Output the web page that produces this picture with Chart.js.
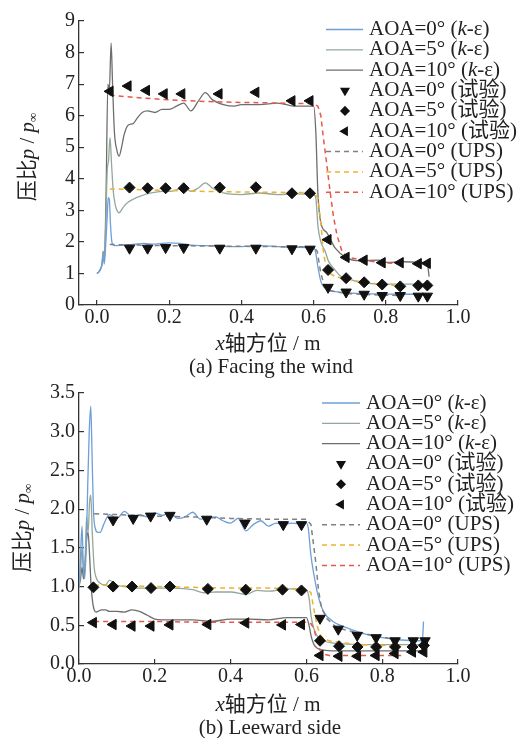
<!DOCTYPE html>
<html>
<head>
<meta charset="utf-8">
<script src="https://cdn.jsdelivr.net/npm/chart.js@4.4.0/dist/chart.umd.min.js"></script>
<style>
  body { margin: 0; background: #fff; }
  #page { position: relative; width: 521px; height: 738px; overflow: hidden;
          font-family: "Liberation Serif", "Noto Sans CJK SC", serif; color: #222; }
  canvas { position: absolute; left: 0; }
  .lbl { position: absolute; font-size: 21px; white-space: nowrap; transform: translate(-50%, -50%); line-height: 1; }
  .ytitle { transform: translate(-50%, -50%) rotate(-90deg); }
  .lbl i { font-style: italic; }
  .lbl sub { font-size: 13px; vertical-align: -3px; }
</style>
</head>
<body>
<div id="page">
  <canvas id="topChart" width="521" height="372" style="top:0"></canvas>
  <canvas id="botChart" width="521" height="366" style="top:372px"></canvas>

  <div class="lbl ytitle" style="left:28px;top:157px">压比<i>p</i> / <i>p</i><sub>∞</sub></div>
  <div class="lbl" style="left:268px;top:343px"><i>x</i>轴方位 / m</div>
  <div class="lbl" style="left:271px;top:366px">(a) Facing the wind</div>

  <div class="lbl ytitle" style="left:23px;top:528px">压比<i>p</i> / <i>p</i><sub>∞</sub></div>
  <div class="lbl" style="left:268px;top:704px"><i>x</i>轴方位 / m</div>
  <div class="lbl" style="left:270px;top:727px">(b) Leeward side</div>
</div>
<script>
// ---- (a) facing the wind ----
const topX_ke0 = [0, 0.005, 0.01, 0.014, 0.017, 0.02, 0.024, 0.028, 0.031, 0.034, 0.037, 0.041, 0.045, 0.05, 0.07, 0.1, 0.13, 0.16, 0.2, 0.23, 0.26, 0.3, 0.35, 0.4, 0.45, 0.5, 0.55, 0.6, 0.605, 0.612, 0.62, 0.63, 0.65, 0.68, 0.72, 0.78, 0.85, 0.92];
const topY_ke0 = [1.0, 1.05, 1.15, 1.3, 1.6, 1.3, 1.9, 2.8, 3.4, 3.35, 2.6, 2.0, 1.9, 1.88, 1.9, 1.92, 1.95, 1.93, 1.97, 1.95, 1.9, 1.88, 1.86, 1.85, 1.88, 1.85, 1.83, 1.82, 1.7, 1.2, 0.75, 0.55, 0.45, 0.4, 0.37, 0.35, 0.34, 0.34];

const topX_ke5 = [0, 0.005, 0.01, 0.014, 0.017, 0.02, 0.024, 0.028, 0.032, 0.036, 0.04, 0.045, 0.05, 0.055, 0.061, 0.07, 0.08, 0.1, 0.12, 0.15, 0.18, 0.2, 0.22, 0.24, 0.26, 0.28, 0.3, 0.32, 0.35, 0.4, 0.45, 0.5, 0.55, 0.6, 0.606, 0.612, 0.62, 0.632, 0.641, 0.66, 0.673, 0.7, 0.728, 0.784, 0.85, 0.927];
const topY_ke5 = [1.0, 1.05, 1.15, 1.3, 1.7, 1.35, 2.5, 4.2, 4.6, 5.3, 4.5, 3.6, 3.2, 3.0, 2.92, 3.05, 3.2, 3.35, 3.45, 3.55, 3.6, 3.6, 3.65, 3.75, 3.6, 3.7, 3.87, 3.7, 3.55, 3.5, 3.55, 3.5, 3.52, 3.5, 3.4, 2.5, 2.0, 1.7, 1.39, 1.1, 0.93, 0.82, 0.72, 0.67, 0.66, 0.66];

const topX_ke10 = [0, 0.005, 0.01, 0.014, 0.017, 0.02, 0.025, 0.03, 0.034, 0.039, 0.043, 0.048, 0.055, 0.061, 0.068, 0.075, 0.086, 0.1, 0.11, 0.125, 0.14, 0.16, 0.18, 0.2, 0.22, 0.24, 0.26, 0.28, 0.3, 0.32, 0.35, 0.38, 0.4, 0.45, 0.5, 0.55, 0.6, 0.606, 0.612, 0.62, 0.636, 0.66, 0.69, 0.73, 0.78, 0.8, 0.85, 0.9, 0.915, 0.92];
const topY_ke10 = [1.0, 1.05, 1.15, 1.3, 1.7, 1.4, 3.5, 7.0, 6.8, 8.3, 7.0, 5.5, 4.9, 4.72, 5.0, 5.4, 5.7, 5.75, 5.9, 6.1, 6.15, 6.1, 6.2, 6.2, 6.3, 6.4, 6.15, 6.45, 6.73, 6.5, 6.35, 6.3, 6.35, 6.35, 6.4, 6.3, 6.3, 5.5, 3.5, 2.6, 2.3, 1.8, 1.5, 1.4, 1.42, 1.35, 1.37, 1.35, 1.3, 0.9];

const topX_exp = [0.09, 0.14, 0.19, 0.24, 0.34, 0.44, 0.54, 0.59, 0.64, 0.69, 0.74, 0.79, 0.84, 0.89, 0.915];
const topY_exp0 = [1.8, 1.8, 1.82, 1.82, 1.8, 1.8, 1.78, 1.77, 0.56, 0.41, 0.34, 0.3, 0.3, 0.28, 0.28];
const topY_exp5 = [3.72, 3.7, 3.7, 3.7, 3.72, 3.73, 3.54, 3.54, 1.11, 0.85, 0.72, 0.65, 0.59, 0.62, 0.62];
const topX_exp10 = [0.036, 0.086, 0.137, 0.186, 0.235, 0.338, 0.44, 0.54, 0.59, 0.64, 0.69, 0.74, 0.79, 0.84, 0.89, 0.915];
const topY_exp10 = [6.77, 6.94, 6.8, 6.69, 6.69, 6.69, 6.74, 6.47, 6.47, 2.07, 1.51, 1.42, 1.34, 1.34, 1.31, 1.32];

const topX_ups0 = [0.035, 0.1, 0.2, 0.3, 0.4, 0.5, 0.6, 0.61, 0.62, 0.63, 0.645, 0.67, 0.7, 0.75, 0.8, 0.85];
const topY_ups0 = [1.92, 1.9, 1.88, 1.87, 1.86, 1.85, 1.84, 1.7, 1.0, 0.6, 0.45, 0.4, 0.36, 0.33, 0.31, 0.3];
const topX_ups5 = [0.035, 0.1, 0.2, 0.3, 0.4, 0.5, 0.6, 0.612, 0.62, 0.628, 0.636, 0.645, 0.66, 0.7, 0.75, 0.8, 0.85];
const topY_ups5 = [3.68, 3.66, 3.63, 3.6, 3.58, 3.57, 3.56, 3.4, 2.6, 1.6, 1.15, 1.0, 0.9, 0.8, 0.7, 0.64, 0.6];
const topX_ups10 = [0.035, 0.1, 0.2, 0.3, 0.4, 0.5, 0.6, 0.612, 0.62, 0.627, 0.636, 0.645, 0.655, 0.665, 0.68, 0.7, 0.75, 0.8, 0.85];
const topY_ups10 = [6.65, 6.58, 6.5, 6.45, 6.42, 6.4, 6.38, 6.3, 6.0, 5.3, 4.5, 3.65, 2.8, 2.2, 1.65, 1.5, 1.4, 1.33, 1.3];

// ---- (b) leeward side ----
const botX_ke0 = [0, 0.004, 0.008, 0.011, 0.015, 0.019, 0.023, 0.027, 0.031, 0.034, 0.038, 0.043, 0.05, 0.056, 0.065, 0.08, 0.1, 0.12, 0.14, 0.16, 0.18, 0.2, 0.22, 0.24, 0.26, 0.28, 0.3, 0.32, 0.34, 0.36, 0.38, 0.4, 0.42, 0.44, 0.46, 0.48, 0.5, 0.52, 0.54, 0.56, 0.58, 0.6, 0.605, 0.612, 0.62, 0.63, 0.645, 0.67, 0.7, 0.76, 0.8, 0.85, 0.9, 0.906, 0.909];
const botY_ke0 = [1.0, 1.4, 1.78, 1.3, 1.1, 1.5, 2.3, 3.0, 3.33, 2.8, 2.0, 1.75, 1.7, 1.7, 1.8, 1.93, 1.88, 1.97, 1.9, 1.93, 1.9, 1.95, 1.92, 1.95, 1.88, 1.9, 1.96, 1.87, 1.88, 1.9, 1.85, 1.82, 1.88, 1.72, 1.8, 1.85, 1.78, 1.82, 1.8, 1.82, 1.81, 1.82, 1.75, 1.4, 1.15, 0.9, 0.68, 0.55, 0.48, 0.38, 0.34, 0.31, 0.3, 0.3, 0.55];

const botX_ke5 = [0, 0.004, 0.008, 0.012, 0.016, 0.02, 0.024, 0.028, 0.031, 0.035, 0.04, 0.045, 0.05, 0.06, 0.07, 0.08, 0.09, 0.1, 0.12, 0.15, 0.2, 0.25, 0.3, 0.33, 0.36, 0.4, 0.44, 0.47, 0.5, 0.55, 0.6, 0.607, 0.613, 0.62, 0.63, 0.645, 0.67, 0.7, 0.75, 0.8, 0.85, 0.9, 0.912];
const botY_ke5 = [1.0, 1.2, 1.5, 1.2, 1.35, 1.9, 1.7, 2.1, 2.18, 1.7, 1.25, 1.12, 1.07, 1.03, 1.02, 1.08, 1.06, 1.02, 1.0, 0.98, 0.98, 0.98, 0.96, 0.92, 0.93, 0.93, 0.9, 0.95, 0.94, 0.97, 0.96, 0.85, 0.6, 0.45, 0.35, 0.3, 0.27, 0.26, 0.25, 0.25, 0.25, 0.25, 0.25];

const botX_ke10 = [0, 0.004, 0.008, 0.012, 0.016, 0.02, 0.024, 0.028, 0.032, 0.036, 0.04, 0.045, 0.05, 0.06, 0.07, 0.08, 0.1, 0.12, 0.14, 0.16, 0.18, 0.2, 0.22, 0.25, 0.3, 0.35, 0.4, 0.45, 0.5, 0.55, 0.6, 0.607, 0.613, 0.62, 0.63, 0.645, 0.67, 0.7, 0.75, 0.8, 0.85, 0.9, 0.912];
const botY_ke10 = [1.0, 1.1, 1.25, 1.1, 1.3, 1.6, 1.7, 1.4, 1.0, 0.8, 0.7, 0.67, 0.68, 0.7, 0.7, 0.68, 0.68, 0.67, 0.7, 0.68, 0.63, 0.58, 0.57, 0.57, 0.57, 0.55, 0.58, 0.58, 0.57, 0.6, 0.6, 0.5, 0.35, 0.25, 0.2, 0.18, 0.17, 0.17, 0.17, 0.17, 0.17, 0.17, 0.17];

const botX_exp = [0.038, 0.09, 0.14, 0.19, 0.24, 0.34, 0.44, 0.537, 0.587, 0.636, 0.686, 0.735, 0.784, 0.834, 0.88, 0.91];
const botX_exp0 = [0.09, 0.143, 0.189, 0.24, 0.337, 0.438, 0.539, 0.587, 0.636, 0.684, 0.734, 0.784, 0.834, 0.882, 0.913];
const botY_exp0 = [1.86, 1.88, 1.91, 1.92, 1.87, 1.82, 1.8, 1.8, 0.59, 0.45, 0.37, 0.34, 0.3, 0.3, 0.3];
const botY_exp5 = [0.99, 1.0, 1.0, 0.98, 1.0, 0.97, 0.96, 0.96, 0.95, 0.3, 0.23, 0.22, 0.22, 0.22, 0.22, 0.24];
const botY_exp10 = [0.535, 0.51, 0.49, 0.49, 0.505, 0.51, 0.53, 0.505, 0.51, 0.11, 0.1, 0.1, 0.11, 0.135, 0.155, 0.155];

const botX_ups0 = [0.04, 0.1, 0.2, 0.3, 0.4, 0.5, 0.6, 0.612, 0.62, 0.625, 0.632, 0.64, 0.655, 0.68, 0.72, 0.776, 0.83, 0.85];
const botY_ups0 = [1.94, 1.93, 1.91, 1.9, 1.88, 1.87, 1.87, 1.8, 1.5, 1.3, 0.95, 0.72, 0.58, 0.47, 0.42, 0.37, 0.32, 0.31];
const botX_ups = [0.04, 0.1, 0.2, 0.3, 0.4, 0.5, 0.6, 0.612, 0.62, 0.628, 0.636, 0.645, 0.66, 0.7, 0.75, 0.8, 0.85];
const botY_ups5 = [1.02, 1.01, 1.0, 0.99, 0.98, 0.98, 0.97, 0.92, 0.7, 0.5, 0.38, 0.33, 0.3, 0.27, 0.25, 0.24, 0.23];
const botY_ups10 = [0.55, 0.55, 0.55, 0.54, 0.54, 0.54, 0.54, 0.52, 0.45, 0.3, 0.18, 0.13, 0.11, 0.11, 0.11, 0.11, 0.11];

const xTicks = [0, 0.2, 0.4, 0.6, 0.8, 1.0];
const labels = ['AOA=0° (k-ε)', 'AOA=5° (k-ε)', 'AOA=10° (k-ε)',
                'AOA=0° (试验)', 'AOA=5° (试验)', 'AOA=10° (试验)',
                'AOA=0° (UPS)', 'AOA=5° (UPS)', 'AOA=10° (UPS)'];

const FONT = '"Liberation Serif", "Noto Sans CJK SC", serif';
const pts = (xs, ys) => xs.map((x, i) => ({x: x, y: ys[i]}));

function curve(label, xs, ys, color) {
  return {label, data: pts(xs, ys), borderColor: color, borderWidth: 1.3,
          pointRadius: 0, cubicInterpolationMode: 'monotone', order: 2};
}
function dashed(label, xs, ys, color) {
  return {label, data: pts(xs, ys), borderColor: color, borderWidth: 1.5, borderDash: [5, 4],
          pointRadius: 0, tension: 0, order: 1};
}
function marks(label, xs, ys, style, rot, r) {
  return {label, data: pts(xs, ys), showLine: false, pointStyle: style, pointRotation: rot,
          pointRadius: r, pointHoverRadius: r, pointBackgroundColor: '#111', pointBorderColor: '#111',
          pointBorderWidth: 1, borderColor: '#111', order: 0};
}

// legend drawn in a column at a fixed spot, lines / markers / text with italic k
const columnLegend = {
  id: 'columnLegend',
  afterDraw(chart, args, o) {
    const ctx = chart.ctx;
    ctx.save();
    chart.data.datasets.forEach((ds, i) => {
      const y = o.top + i * o.rowH;
      ctx.strokeStyle = ds.borderColor;
      if (ds.showLine === false) {
        ctx.fillStyle = '#111';
        ctx.strokeStyle = '#111';
        ctx.setLineDash([]);
        Chart.helpers.drawPoint(ctx, {pointStyle: ds.pointStyle, rotation: ds.pointRotation,
          radius: ds.pointRadius * 0.75, borderWidth: 1}, o.mark, y);
      } else {
        ctx.lineWidth = ds.borderWidth;
        ctx.setLineDash(ds.borderDash || []);
        ctx.beginPath();
        ctx.moveTo(o.x0, y);
        ctx.lineTo(o.x1, y);
        ctx.stroke();
      }
      ctx.setLineDash([]);
      ctx.fillStyle = '#222';
      ctx.textBaseline = 'middle';
      ctx.textAlign = 'left';
      const m = ds.label.match(/^(.*\()k(-.*)$/);
      const parts = m ? [[m[1], ''], ['k', 'italic '], [m[2], '']] : [[ds.label, '']];
      let x = o.text;
      parts.forEach(p => {
        ctx.font = p[1] + '21px ' + FONT;
        ctx.fillText(p[0], x, y);
        x += ctx.measureText(p[0]).width;
      });
    });
    ctx.restore();
  }
};

function axisStyle() {
  return {
    grid: {drawOnChartArea: false, drawTicks: true, tickLength: -5, color: '#333', lineWidth: 1.2},
    border: {display: true, color: '#333', width: 1.3},
  };
}

function build(id, cfg) {
  return new Chart(document.getElementById(id), {
    type: 'line',
    data: {datasets: cfg.datasets},
    options: {
      responsive: false,
      animation: false,
      events: [],
      layout: {padding: {left: 0, right: 63, top: cfg.top, bottom: 0}},
      plugins: {legend: {display: false}, tooltip: {enabled: false}, columnLegend: cfg.legend},
      scales: {
        x: Object.assign(axisStyle(), {
          type: 'linear', min: cfg.xMin, max: 1.0,
          afterBuildTicks: s => { s.ticks = xTicks.map(v => ({value: v})); },
          afterFit: s => { s.height = cfg.xHeight; },
          ticks: {padding: 6, color: '#222', font: {family: FONT, size: 20},
                  callback: v => Number(v).toFixed(1)}
        }),
        y: Object.assign(axisStyle(), {
          type: 'linear', min: 0, max: cfg.yMax,
          afterFit: s => { s.width = 79; },
          ticks: {stepSize: cfg.yStep, padding: 9, color: '#222', font: {family: FONT, size: 20},
                  callback: cfg.yFmt}
        })
      }
    },
    plugins: [columnLegend]
  });
}

build('topChart', {
  top: 14, xMin: -0.05, xHeight: 67, yMax: 9, yStep: 1, yFmt: v => v,
  legend: {top: 29.5, rowH: 20.35, x0: 326, x1: 363, mark: 345, text: 369},
  datasets: [
    curve(labels[0], topX_ke0, topY_ke0, '#6f9fd8'),
    curve(labels[1], topX_ke5, topY_ke5, '#93a89b'),
    curve(labels[2], topX_ke10, topY_ke10, '#6e6e6e'),
    marks(labels[3], topX_exp, topY_exp0, 'triangle', 180, 6),
    marks(labels[4], topX_exp, topY_exp5, 'rectRot', 0, 5.5),
    marks(labels[5], topX_exp10, topY_exp10, 'triangle', 270, 6),
    dashed(labels[6], topX_ups0, topY_ups0, '#808080'),
    dashed(labels[7], topX_ups5, topY_ups5, '#eeb22e'),
    dashed(labels[8], topX_ups10, topY_ups10, '#e5584b')
  ]
});

build('botChart', {
  top: 15, xMin: 0, xHeight: 74, yMax: 3.5, yStep: 0.5, yFmt: v => Number(v).toFixed(1),
  legend: {top: 31, rowH: 20.3, x0: 322, x1: 360, mark: 341, text: 366},
  datasets: [
    curve(labels[0], botX_ke0, botY_ke0, '#6f9fd8'),
    curve(labels[1], botX_ke5, botY_ke5, '#93a89b'),
    curve(labels[2], botX_ke10, botY_ke10, '#6e6e6e'),
    marks(labels[3], botX_exp0, botY_exp0, 'triangle', 180, 6),
    marks(labels[4], botX_exp, botY_exp5, 'rectRot', 0, 5.5),
    marks(labels[5], botX_exp, botY_exp10, 'triangle', 270, 6),
    dashed(labels[6], botX_ups0, botY_ups0, '#808080'),
    dashed(labels[7], botX_ups, botY_ups5, '#eeb22e'),
    dashed(labels[8], botX_ups, botY_ups10, '#e5584b')
  ]
});
</script>
</body>
</html>
